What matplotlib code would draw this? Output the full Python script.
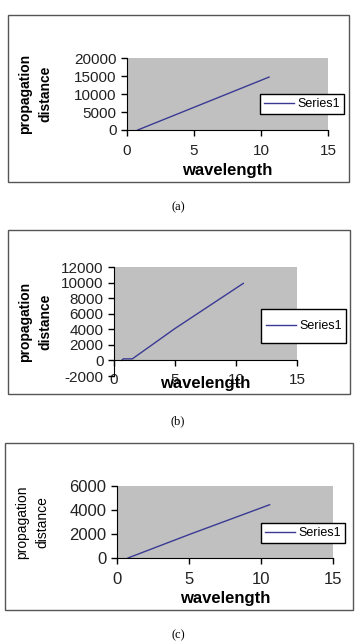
import matplotlib.pyplot as plt
from matplotlib.patches import Rectangle

plt.rcParams['font.family'] = ['Liberation Sans', 'DejaVu Sans']
plt.rcParams['axes.unicode_minus'] = False

# данные
wl_a = [0.8, 5.0, 10.6]
dist_a = [0, 6300, 14700]

wl_b = [0.63, 0.76, 1.5, 5.0, 10.6]
dist_b = [0, 200, 200, 4100, 9900]

wl_c = [0.76, 5.0, 10.6]
dist_c = [0, 1950, 4440]

yticks_a = [0, 5000, 10000, 15000, 20000]
yticks_b = [-2000, 0, 2000, 4000, 6000, 8000, 10000, 12000]
yticks_c = [0, 2000, 4000, 6000]
xticks = [0, 5, 10, 15]

W, H = 356, 641
grey = '#c0c0c0'
line_col = '#3a3a94'

fig = plt.figure(figsize=(W / 100, H / 100), dpi=100)


def fx(px):
    return px / W


def fy(py):
    return 1 - py / H


def frame(x0, y0, x1, y1, color='#555555'):
    fig.patches.append(Rectangle((fx(x0), fy(y1)), fx(x1) - fx(x0), fy(y0) - fy(y1),
                                 transform=fig.transFigure, fill=False,
                                 edgecolor=color, linewidth=1.0))


def panel(box, x, y, yticks, ylim, leg, xlab_y, ylab_x, tick_fs=11, leg_frame=True,
          ylab_weight='bold', shaded=None):
    x0, y0, x1, y1 = box
    ax = fig.add_axes([fx(x0), fy(y1), fx(x1) - fx(x0), fy(y0) - fy(y1)])
    if shaded is None:
        ax.set_facecolor(grey)
    else:
        ax.set_facecolor('white')
        ax.axhspan(shaded[0], shaded[1], color=grey, zorder=0, lw=0)
    ax.plot(x, y, color=line_col, lw=1.0, label='Series1')
    ax.set_xlim(0, 15)
    ax.set_ylim(*ylim)
    ax.set_xticks(xticks)
    ax.set_yticks(yticks)
    for s in ['top', 'right']:
        ax.spines[s].set_visible(False)
    ax.tick_params(labelsize=tick_fs, length=4, width=1, colors='black', labelcolor='#222222')
    ax.tick_params(axis='x', pad=6)
    ax.legend(loc='center left', bbox_to_anchor=(fx(leg[0]), fy(leg[1])),
              bbox_transform=fig.transFigure, frameon=leg_frame, fancybox=False,
              edgecolor='black', fontsize=9, handlelength=2.4, borderpad=0.3,
              handletextpad=0.3, borderaxespad=0, framealpha=1)
    fig.text(fx((x0 + x1) / 2), fy(xlab_y), 'wavelength', ha='center', va='center',
             fontsize=12, fontweight='bold')
    fig.text(fx(ylab_x), fy((y0 + y1) / 2), 'propagation\ndistance', ha='center', va='center',
             rotation=90, fontsize=10, fontweight=ylab_weight, linespacing=1.55)
    return ax


# (a)
frame(8, 15, 349, 182)
panel((127, 58, 328, 130), wl_a, dist_a, yticks_a, (0, 20000), (260, 104), 170, 35)
fig.text(0.5, fy(207), '(a)', ha='center', va='center', fontsize=9, family='Liberation Serif')

# (b)
frame(8, 230, 350, 394)
ax_b = panel((114, 267, 297, 376), wl_b, dist_b, yticks_b, (-2000, 12000), (262, 326), 383, 35,
             leg_frame=False, shaded=(0, 12000))
ax_b.spines['bottom'].set_position(('data', 0))
ax_b.tick_params(axis='x', pad=5)
# рамка легенды (b) выше, чем в остальных
ax_b.add_patch(Rectangle((fx(261), fy(343)), fx(346) - fx(261), fy(309) - fy(343),
                         transform=fig.transFigure, facecolor='white', clip_on=False,
                         edgecolor='black', linewidth=1.0, zorder=4))
fig.text(0.5, fy(421), '(b)', ha='center', va='center', fontsize=9, family='Liberation Serif')

# (c)
frame(5, 443, 353, 610)
panel((117, 486, 333, 558), wl_c, dist_c, yticks_c, (0, 6000), (261, 533), 598, 32,
      tick_fs=12, ylab_weight='normal')
fig.text(0.5, fy(635), '(c)', ha='center', va='center', fontsize=9, family='Liberation Serif')

plt.savefig('out.png', dpi=100)
